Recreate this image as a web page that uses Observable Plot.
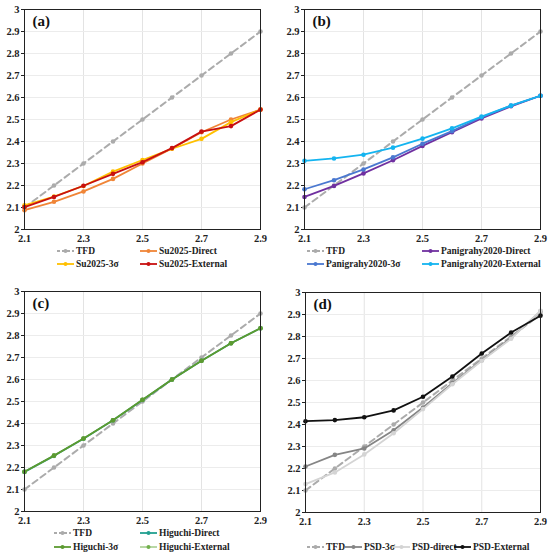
<!DOCTYPE html>
<html>
<head>
<meta charset="utf-8">
<script src="https://cdn.jsdelivr.net/npm/d3@7"></script>
<script src="https://cdn.jsdelivr.net/npm/@observablehq/plot@0.6"></script>
<style>
  body { margin: 0; background: #fff; }
  #root { position: relative; width: 550px; height: 555px; overflow: hidden; font-family: "Liberation Serif", "DejaVu Serif", serif; }
  .panel { position: absolute; }
  .leg { position: absolute; display: flex; align-items: center; font-family: "Liberation Serif", "DejaVu Serif", serif; font-weight: bold; font-size: 9.5px; white-space: nowrap; color: #222; }
  .leg svg { margin-right: 2px; }
</style>
</head>
<body>
<div id="root"></div>
<script>
// ---------- data ----------
const xValues = [2.1, 2.2, 2.3, 2.4, 2.5, 2.6, 2.7, 2.8, 2.9];
const xTicks = [2.1, 2.3, 2.5, 2.7, 2.9];
const yTicks = [2.0, 2.1, 2.2, 2.3, 2.4, 2.5, 2.6, 2.7, 2.8, 2.9, 3.0];
const tfd = [2.1, 2.2, 2.3, 2.4, 2.5, 2.6, 2.7, 2.8, 2.9];

// (a)
const su2025Direct   = [2.088, 2.126, 2.173, 2.230, 2.300, 2.368, 2.442, 2.500, 2.545];
const su2025Sigma    = [2.110, 2.150, 2.198, 2.263, 2.316, 2.367, 2.412, 2.488, 2.545];
const su2025External = [2.102, 2.148, 2.199, 2.253, 2.306, 2.370, 2.445, 2.470, 2.545];
// (b)
const pan2020Direct   = [2.148, 2.198, 2.255, 2.315, 2.380, 2.442, 2.505, 2.560, 2.608];
const pan2020Sigma    = [2.183, 2.224, 2.273, 2.328, 2.390, 2.447, 2.510, 2.563, 2.608];
const pan2020External = [2.312, 2.323, 2.340, 2.372, 2.413, 2.460, 2.513, 2.563, 2.608];
// (c)
const higuchiDirect   = [2.180, 2.253, 2.331, 2.415, 2.507, 2.600, 2.685, 2.765, 2.833];
const higuchiSigma    = [2.181, 2.254, 2.332, 2.415, 2.508, 2.600, 2.685, 2.765, 2.833];
const higuchiExternal = [2.181, 2.254, 2.332, 2.415, 2.508, 2.600, 2.685, 2.765, 2.833];
// (d)
const psdSigma    = [2.209, 2.262, 2.291, 2.374, 2.477, 2.588, 2.692, 2.794, 2.914];
const psdDirect   = [2.129, 2.182, 2.264, 2.360, 2.470, 2.583, 2.690, 2.790, 2.917];
const psdExternal = [2.415, 2.420, 2.433, 2.464, 2.526, 2.618, 2.723, 2.818, 2.894];

// ---------- drawing ----------
const root = document.getElementById("root");
const fmtY = d => String(+d.toFixed(1));
const FONT = "'Liberation Serif', 'DejaVu Serif', serif";

function seriesMarks(s) {
  const opts = {x: (_, i) => xValues[i], y: d => d, stroke: s.color, strokeWidth: s.width ?? 1.8};
  if (s.dash) opts.strokeDasharray = s.dash;
  return [
    Plot.line(s.values, opts),
    Plot.dot(s.values, {x: (_, i) => xValues[i], y: d => d, r: s.r ?? 2.3, fill: s.color, stroke: "none"})
  ];
}

function panel(cfg) {
  const chart = Plot.plot({
    width: 275,
    height: 249,
    marginLeft: cfg.ml,
    marginRight: cfg.mr,
    marginTop: 9,
    marginBottom: 20,
    style: {fontFamily: FONT, fontWeight: "bold", fontSize: "10.5px", color: "#222", background: "transparent"},
    x: {domain: [2.1, 2.9], ticks: xTicks, tickFormat: d => d.toFixed(1), tickSize: 0, tickPadding: 5, label: null},
    y: {domain: [2, 3], ticks: yTicks, tickFormat: fmtY, tickSize: 3, tickPadding: 2, label: null},
    marks: [
      Plot.ruleX(xTicks, {stroke: "#e3e3e3", strokeWidth: 1}),
      Plot.ruleY(yTicks, {stroke: "#ececec", strokeWidth: 1}),
      ...cfg.series.flatMap(seriesMarks),
      Plot.frame({stroke: "#222", strokeWidth: 1}),
      Plot.text([cfg.label], {frameAnchor: "top-left", dx: 8, dy: 6, textAnchor: "start", lineAnchor: "top", fontSize: 15, fontWeight: "bold", fill: "#111", fontFamily: FONT})
    ]
  });
  const wrap = document.createElement("div");
  wrap.className = "panel";
  wrap.style.left = cfg.left + "px";
  wrap.style.top = cfg.top + "px";
  wrap.appendChild(chart);
  root.appendChild(wrap);
}

function legendItem(s, x, y) {
  const d = document.createElement("div");
  d.className = "leg";
  d.style.left = x + "px";
  d.style.top = (y - 6) + "px";
  d.style.height = "12px";
  const dash = s.dash ? ` stroke-dasharray="3,2"` : "";
  d.innerHTML = `<svg width="17" height="8"><line x1="0" y1="4" x2="17" y2="4" stroke="${s.color}" stroke-width="${Math.min(s.width ?? 1.8, 1.8)}"${dash}/><circle cx="8.5" cy="4" r="2" fill="${s.color}"/></svg><span>${s.name}</span>`;
  root.appendChild(d);
}

const tfdSeries = {name: "TFD", values: tfd, color: "#ababab", dash: "6,4", width: 2};

const A = [
  tfdSeries,
  {name: "Su2025-Direct", values: su2025Direct, color: "#f08537"},
  {name: "Su2025-3σ", values: su2025Sigma, color: "#ffc000"},
  {name: "Su2025-External", values: su2025External, color: "#c81010"}
];
const B = [
  tfdSeries,
  {name: "Panigrahy2020-Direct", values: pan2020Direct, color: "#7030a0"},
  {name: "Panigrahy2020-3σ", values: pan2020Sigma, color: "#4a78d0"},
  {name: "Panigrahy2020-External", values: pan2020External, color: "#14b4f0"}
];
const C = [
  tfdSeries,
  {name: "Higuchi-Direct", values: higuchiDirect, color: "#22a090"},
  {name: "Higuchi-External", values: higuchiExternal, color: "#72b04c", width: 1},
  {name: "Higuchi-3σ", values: higuchiSigma, color: "#5c9a30"}
];
const D = [
  tfdSeries,
  {name: "PSD-3σ", values: psdSigma, color: "#858585"},
  {name: "PSD-direct", values: psdDirect, color: "#d4d4d4"},
  {name: "PSD-External", values: psdExternal, color: "#111111"}
];

panel({left: 0, top: 0, ml: 24, mr: 15, series: A, label: "(a)"});
panel({left: 275, top: 0, ml: 29, mr: 10, series: B, label: "(b)"});
panel({left: 0, top: 282, ml: 24, mr: 15, series: C, label: "(c)"});
panel({left: 275, top: 283, ml: 30, mr: 10, series: D, label: "(d)"});

// legends
legendItem(A[0], 57, 251); legendItem(A[1], 140, 251);
legendItem(A[2], 57, 264); legendItem(A[3], 140, 264);
legendItem(B[0], 307, 251); legendItem(B[1], 422, 251);
legendItem(B[2], 307, 264); legendItem(B[3], 422, 264);
legendItem(C[0], 54, 533); legendItem(C[1], 140, 533);
legendItem(C[3], 54, 547); legendItem(C[2], 140, 547);
legendItem(D[0], 307, 547); legendItem(D[1], 345, 547);
legendItem(D[2], 393, 547); legendItem(D[3], 454, 547);
</script>
</body>
</html>
